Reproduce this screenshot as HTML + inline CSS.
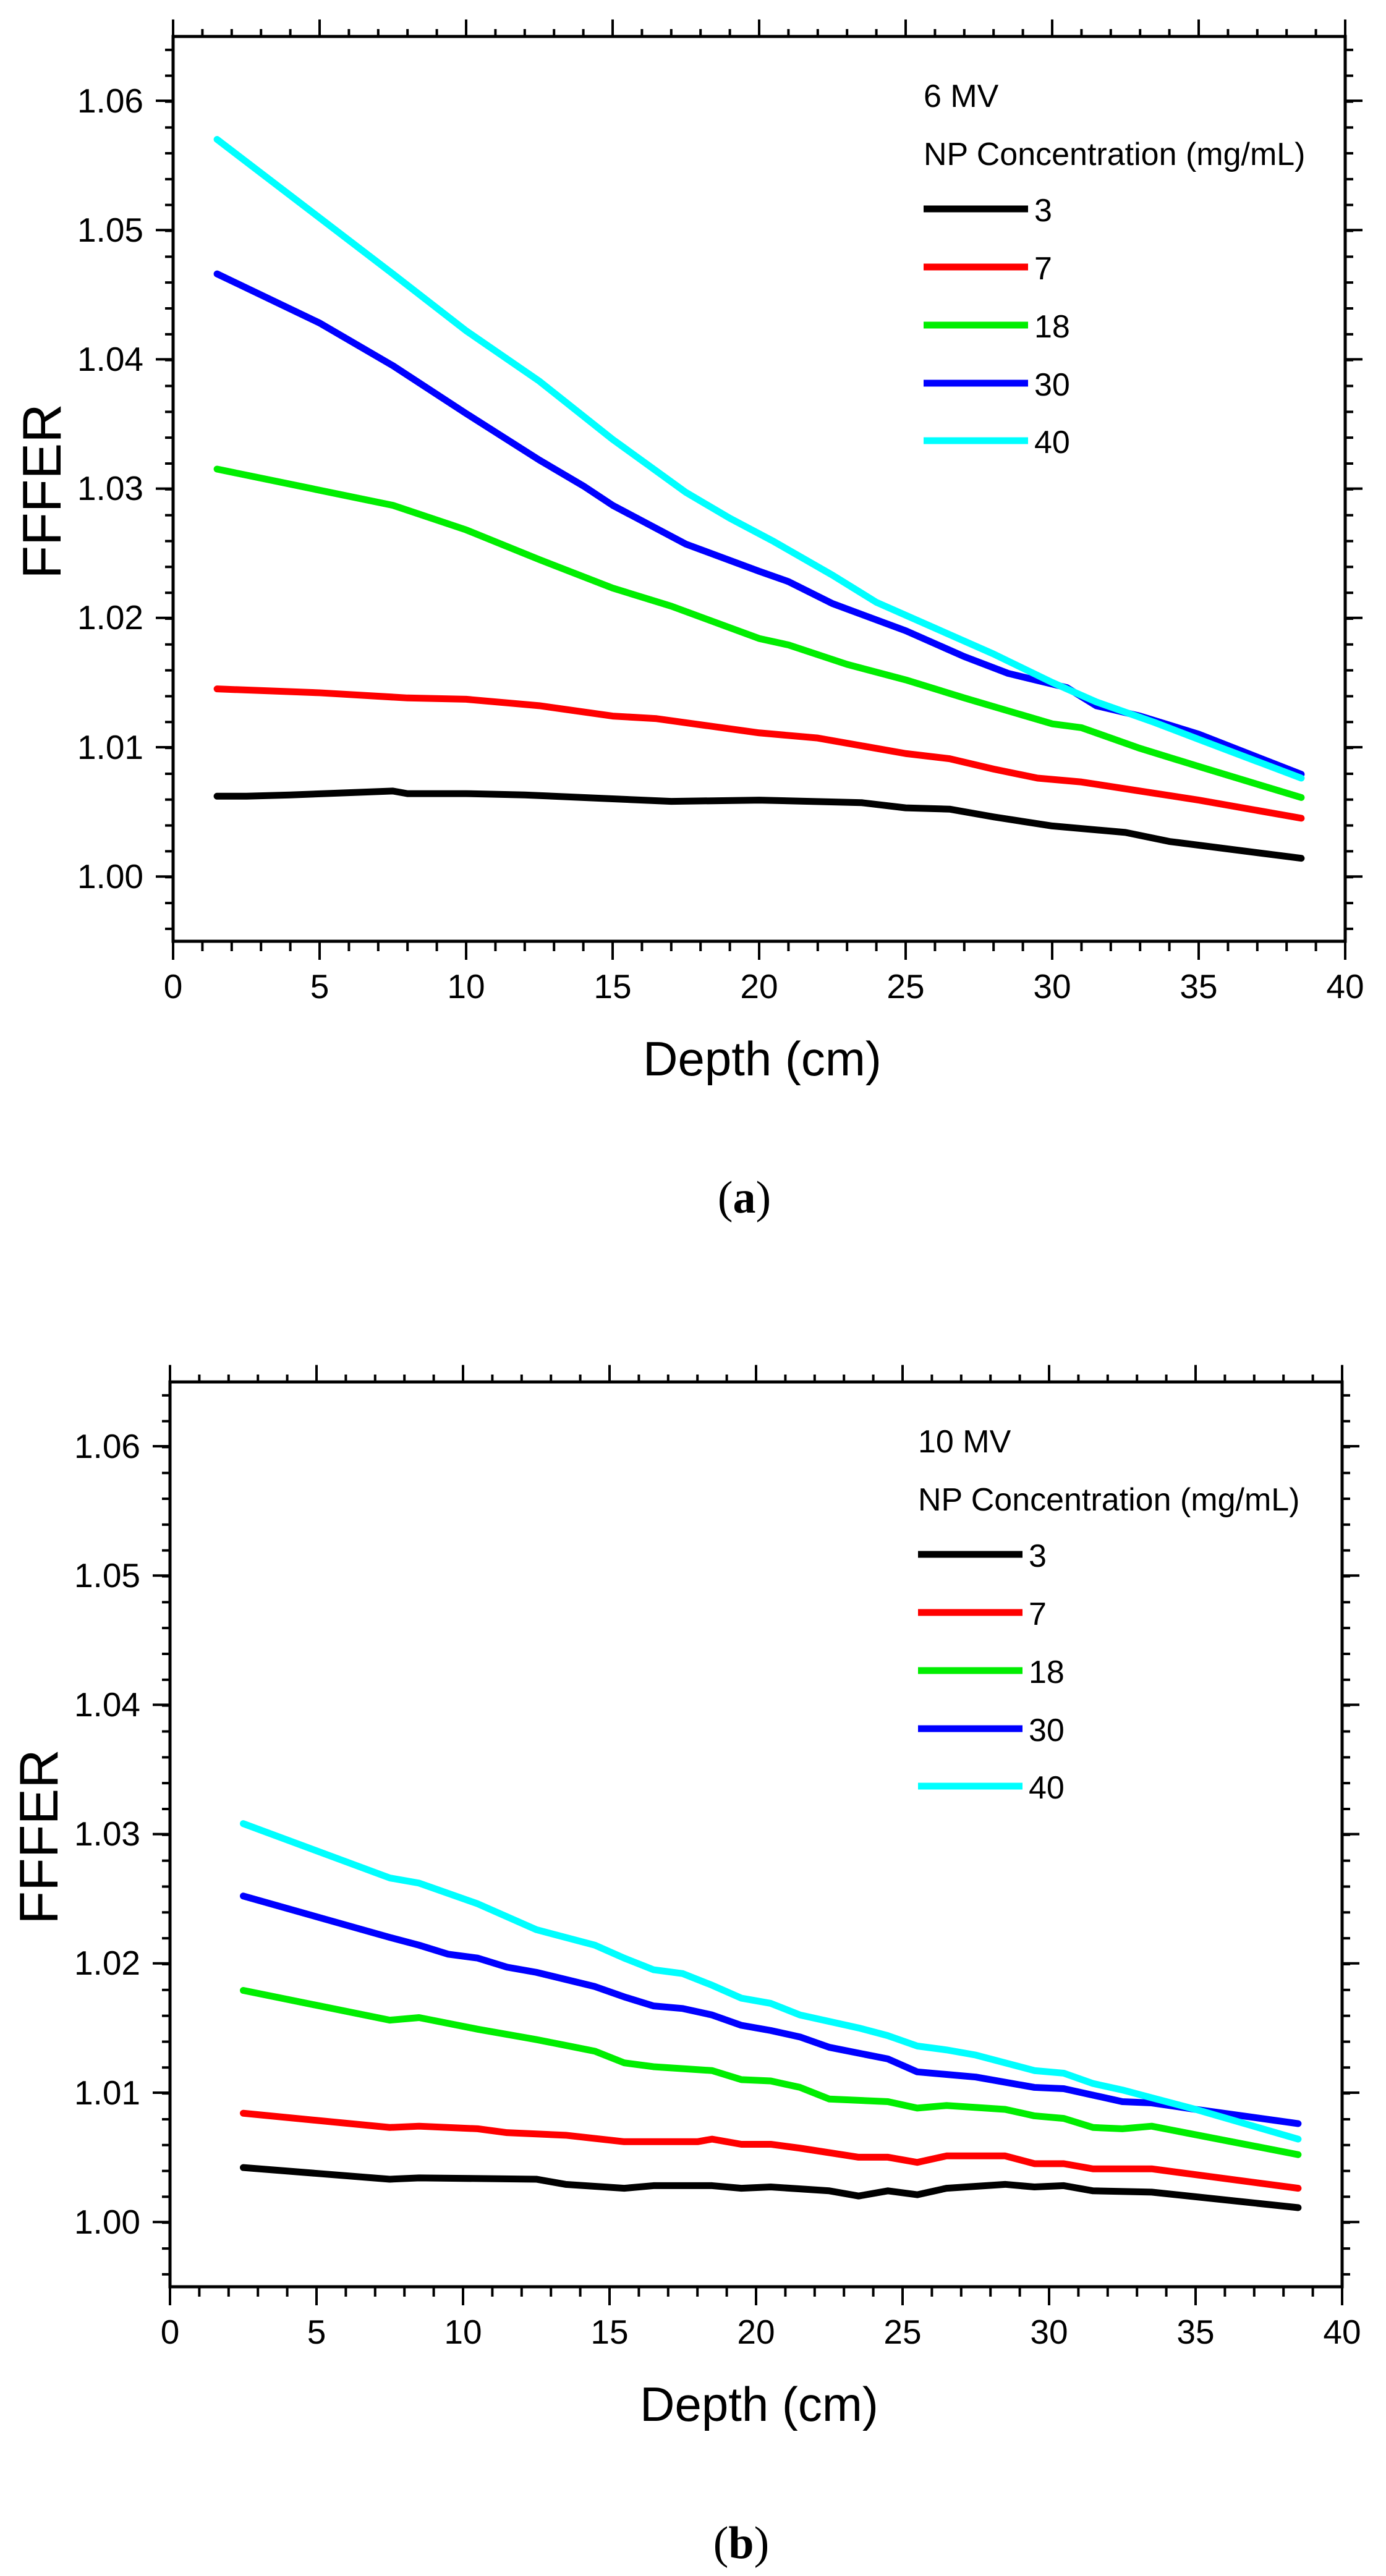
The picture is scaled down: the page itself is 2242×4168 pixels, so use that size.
<!DOCTYPE html>
<html><head><meta charset="utf-8"><style>
html,body{margin:0;padding:0;background:#fff}
svg{display:block}
text{font-family:"Liberation Sans",sans-serif;fill:#000}
.tl{font-size:55px;text-anchor:end}
.xl{font-size:55px;text-anchor:middle}
.lg{font-size:52px}
.d{fill:none;stroke-width:11;stroke-linejoin:round;stroke-linecap:round;vector-effect:non-scaling-stroke}
</style></head><body>
<svg width="2242" height="4168" viewBox="0 0 2242 4168" xmlns="http://www.w3.org/2000/svg">
<g id="A">
<rect x="280" y="59" width="1896" height="1464" fill="none" stroke="#000" stroke-width="5"/>
<line x1="278" y1="1531" x2="2180" y2="1531" stroke="#000" stroke-width="16" stroke-dasharray="4 43.4"/>
<line x1="278" y1="1538" x2="2180" y2="1538" stroke="#000" stroke-width="30" stroke-dasharray="4 233"/>
<line x1="278" y1="53" x2="2180" y2="53" stroke="#000" stroke-width="12" stroke-dasharray="4 43.4"/>
<line x1="278" y1="45" x2="2180" y2="45" stroke="#000" stroke-width="27" stroke-dasharray="4 233"/>
<line x1="273.5" y1="78.7" x2="273.5" y2="1523" stroke="#000" stroke-width="13" stroke-dasharray="4 37.83"/>
<line x1="266" y1="161" x2="266" y2="1523" stroke="#000" stroke-width="28" stroke-dasharray="4 205.2"/>
<line x1="2182.5" y1="78.7" x2="2182.5" y2="1523" stroke="#000" stroke-width="13" stroke-dasharray="4 37.83"/>
<line x1="2190" y1="161" x2="2190" y2="1523" stroke="#000" stroke-width="28" stroke-dasharray="4 205.2"/>
<text class="tl" x="232" y="182">1.06</text>
<text class="tl" x="232" y="391">1.05</text>
<text class="tl" x="232" y="600">1.04</text>
<text class="tl" x="232" y="809">1.03</text>
<text class="tl" x="232" y="1018">1.02</text>
<text class="tl" x="232" y="1228">1.01</text>
<text class="tl" x="232" y="1437">1.00</text>
<text class="xl" x="280" y="1615">0</text>
<text class="xl" x="517" y="1615">5</text>
<text class="xl" x="754" y="1615">10</text>
<text class="xl" x="991" y="1615">15</text>
<text class="xl" x="1228" y="1615">20</text>
<text class="xl" x="1465" y="1615">25</text>
<text class="xl" x="1702" y="1615">30</text>
<text class="xl" x="1939" y="1615">35</text>
<text class="xl" x="2176" y="1615">40</text>
<text x="98" y="795" font-size="88" text-anchor="middle" transform="rotate(-90 98 795)">FFFER</text>
<text x="1233" y="1740" font-size="78" text-anchor="middle">Depth (cm)</text>
<text x="1204" y="1962" font-size="74" text-anchor="middle" style="font-family:'Liberation Serif',serif">(<tspan font-weight="bold">a</tspan>)</text>
<text class="lg" x="1494" y="173">6 MV</text>
<text class="lg" x="1494" y="267">NP Concentration (mg/mL)</text>
<line x1="1494" y1="338" x2="1663" y2="338" stroke="#000" stroke-width="11"/>
<line x1="1494" y1="432" x2="1663" y2="432" stroke="#ff0000" stroke-width="11"/>
<line x1="1494" y1="526" x2="1663" y2="526" stroke="#00ee00" stroke-width="11"/>
<line x1="1494" y1="620" x2="1663" y2="620" stroke="#0000ff" stroke-width="11"/>
<line x1="1494" y1="713" x2="1663" y2="713" stroke="#00ffff" stroke-width="11"/>
<text class="lg" x="1673" y="358">3</text>
<text class="lg" x="1673" y="452">7</text>
<text class="lg" x="1673" y="546">18</text>
<text class="lg" x="1673" y="640">30</text>
<text class="lg" x="1673" y="733">40</text>
<g transform="translate(280,1418) scale(47.4,-20920) translate(0,-1)">
<polyline class="d" stroke="#000" points="1.5,1.0062 2.5,1.0062 4,1.0063 7.5,1.0066 8,1.0064 10,1.0064 12,1.0063 15,1.006 17,1.0058 20,1.0059 23.5,1.0057 25,1.0053 26.5,1.0052 28,1.0046 30,1.0039 32.5,1.0034 34,1.0027 38.5,1.0014"/>
<polyline class="d" stroke="#ff0000" points="1.5,1.0145 5,1.0142 8,1.0138 10,1.0137 12.5,1.0132 15,1.0124 16.5,1.0122 20,1.0111 22,1.0107 25,1.0095 26.5,1.0091 28,1.0083 29.5,1.0076 31,1.0073 33,1.0066 35,1.0059 38.5,1.0045"/>
<polyline class="d" stroke="#00ee00" points="1.5,1.0315 7.5,1.0287 10,1.0268 12.5,1.0245 15,1.0223 17,1.0209 20,1.0184 21,1.0179 23,1.0164 25,1.0152 27,1.0138 30,1.0118 31,1.0115 33,1.0099 35,1.0085 38.5,1.0061"/>
<polyline class="d" stroke="#0000ff" points="1.5,1.0466 5,1.0428 7.5,1.0395 10,1.0358 12.5,1.0322 14,1.0302 15,1.0287 17.5,1.0257 20,1.0236 21,1.0228 22.5,1.0211 25,1.019 27,1.017 28.5,1.0157 30.5,1.0146 31.5,1.0132 33,1.0124 35,1.011 38.5,1.0079"/>
<polyline class="d" stroke="#00ffff" points="1.5,1.057 7.5,1.0466 10,1.0422 12.5,1.0383 15,1.0338 17.5,1.0297 19,1.0277 20.5,1.0259 22.5,1.0233 24,1.0212 26,1.0192 28,1.0172 30,1.015 31.5,1.0135 33.5,1.0119 35,1.0106 38.5,1.0076"/>
</g>
</g>
<g transform="translate(-5,2177)">
<rect x="280" y="59" width="1896" height="1464" fill="none" stroke="#000" stroke-width="5"/>
<line x1="278" y1="1531" x2="2180" y2="1531" stroke="#000" stroke-width="16" stroke-dasharray="4 43.4"/>
<line x1="278" y1="1538" x2="2180" y2="1538" stroke="#000" stroke-width="30" stroke-dasharray="4 233"/>
<line x1="278" y1="53" x2="2180" y2="53" stroke="#000" stroke-width="12" stroke-dasharray="4 43.4"/>
<line x1="278" y1="45" x2="2180" y2="45" stroke="#000" stroke-width="27" stroke-dasharray="4 233"/>
<line x1="273.5" y1="78.7" x2="273.5" y2="1523" stroke="#000" stroke-width="13" stroke-dasharray="4 37.83"/>
<line x1="266" y1="161" x2="266" y2="1523" stroke="#000" stroke-width="28" stroke-dasharray="4 205.2"/>
<line x1="2182.5" y1="78.7" x2="2182.5" y2="1523" stroke="#000" stroke-width="13" stroke-dasharray="4 37.83"/>
<line x1="2190" y1="161" x2="2190" y2="1523" stroke="#000" stroke-width="28" stroke-dasharray="4 205.2"/>
<text class="tl" x="232" y="182">1.06</text>
<text class="tl" x="232" y="391">1.05</text>
<text class="tl" x="232" y="600">1.04</text>
<text class="tl" x="232" y="809">1.03</text>
<text class="tl" x="232" y="1018">1.02</text>
<text class="tl" x="232" y="1228">1.01</text>
<text class="tl" x="232" y="1437">1.00</text>
<text class="xl" x="280" y="1615">0</text>
<text class="xl" x="517" y="1615">5</text>
<text class="xl" x="754" y="1615">10</text>
<text class="xl" x="991" y="1615">15</text>
<text class="xl" x="1228" y="1615">20</text>
<text class="xl" x="1465" y="1615">25</text>
<text class="xl" x="1702" y="1615">30</text>
<text class="xl" x="1939" y="1615">35</text>
<text class="xl" x="2176" y="1615">40</text>
<text x="98" y="795" font-size="88" text-anchor="middle" transform="rotate(-90 98 795)">FFFER</text>
<text x="1233" y="1740" font-size="78" text-anchor="middle">Depth (cm)</text>
<text x="1204" y="1962" font-size="74" text-anchor="middle" style="font-family:'Liberation Serif',serif">(<tspan font-weight="bold">b</tspan>)</text>
<text class="lg" x="1490" y="173">10 MV</text>
<text class="lg" x="1490" y="267">NP Concentration (mg/mL)</text>
<line x1="1490" y1="338" x2="1659" y2="338" stroke="#000" stroke-width="11"/>
<line x1="1490" y1="432" x2="1659" y2="432" stroke="#ff0000" stroke-width="11"/>
<line x1="1490" y1="526" x2="1659" y2="526" stroke="#00ee00" stroke-width="11"/>
<line x1="1490" y1="620" x2="1659" y2="620" stroke="#0000ff" stroke-width="11"/>
<line x1="1490" y1="713" x2="1659" y2="713" stroke="#00ffff" stroke-width="11"/>
<text class="lg" x="1669" y="358">3</text>
<text class="lg" x="1669" y="452">7</text>
<text class="lg" x="1669" y="546">18</text>
<text class="lg" x="1669" y="640">30</text>
<text class="lg" x="1669" y="733">40</text>
<g transform="translate(280,1418) scale(47.4,-20920) translate(0,-1)">
<polyline class="d" stroke="#000" points="2.5,1.0042 7.5,1.0033 8.5,1.0034 12.5,1.0033 13.5,1.0029 15.5,1.0026 16.5,1.0028 18.5,1.0028 19.5,1.0026 20.5,1.0027 22.5,1.0024 23.5,1.002 24.5,1.0024 25.5,1.0021 26.5,1.0026 28.5,1.0029 29.5,1.0027 30.5,1.0028 31.5,1.0024 33.5,1.0023 38.5,1.0011"/>
<polyline class="d" stroke="#ff0000" points="2.5,1.0084 7.5,1.0073 8.5,1.0074 10.5,1.0072 11.5,1.0069 13.5,1.0067 15.5,1.0062 18,1.0062 18.5,1.0064 19.5,1.006 20.5,1.006 21.5,1.0057 23.5,1.005 24.5,1.005 25.5,1.0046 26.5,1.0051 28.5,1.0051 29.5,1.0045 30.5,1.0045 31.5,1.0041 33.5,1.0041 38.5,1.0026"/>
<polyline class="d" stroke="#00ee00" points="2.5,1.0179 7.5,1.0156 8.5,1.0158 10.5,1.0149 12.5,1.0141 14.5,1.0132 15.5,1.0123 16.5,1.012 18.5,1.0117 19.5,1.011 20.5,1.0109 21.5,1.0104 22.5,1.0095 24.5,1.0093 25.5,1.0088 26.5,1.009 28.5,1.0087 29.5,1.0082 30.5,1.008 31.5,1.0073 32.5,1.0072 33.5,1.0074 38.5,1.0052"/>
<polyline class="d" stroke="#0000ff" points="2.5,1.0252 7.5,1.022 8.5,1.0214 9.5,1.0207 10.5,1.0204 11.5,1.0197 12.5,1.0193 14.5,1.0182 15.5,1.0174 16.5,1.0167 17.5,1.0165 18.5,1.016 19.5,1.0152 20.5,1.0148 21.5,1.0143 22.5,1.0135 24.5,1.0126 25.5,1.0116 26.5,1.0114 27.5,1.0112 29.5,1.0104 30.5,1.0103 31.5,1.0098 32.5,1.0093 33.5,1.0092 35,1.0087 38.5,1.0076"/>
<polyline class="d" stroke="#00ffff" points="2.5,1.0308 7.5,1.0266 8.5,1.0262 10.5,1.0246 12.5,1.0226 14.5,1.0214 15.5,1.0204 16.5,1.0195 17.5,1.0192 18.5,1.0183 19.5,1.0173 20.5,1.0169 21.5,1.016 22.5,1.0155 23.5,1.015 24.5,1.0144 25.5,1.0136 26.5,1.0133 27.5,1.0129 28.5,1.0123 29.5,1.0117 30.5,1.0115 31.5,1.0107 32.5,1.0102 33.5,1.0096 35,1.0087 38.5,1.0064"/>
</g>
</g>
</svg>
</body></html>
